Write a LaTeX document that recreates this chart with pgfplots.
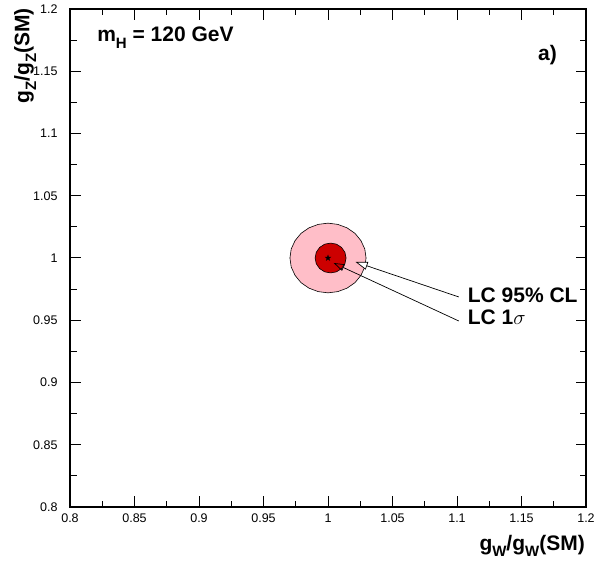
\documentclass[border=0pt]{standalone}
\usepackage{fontspec}
\setmainfont{Liberation Sans}
\usepackage{pgfplots}
\pgfplotsset{compat=1.18}
\usetikzlibrary{arrows.meta}

\definecolor{clpink}{RGB}{255,190,200}
\definecolor{sigred}{RGB}{205,0,0}

% filled five-pointed star marker
\pgfdeclareplotmark{fstar}{%
  \pgfpathmoveto{\pgfpointpolar{90}{\pgfplotmarksize}}%
  \pgfpathlineto{\pgfpointpolar{126}{0.4\pgfplotmarksize}}%
  \pgfpathlineto{\pgfpointpolar{162}{\pgfplotmarksize}}%
  \pgfpathlineto{\pgfpointpolar{198}{0.4\pgfplotmarksize}}%
  \pgfpathlineto{\pgfpointpolar{234}{\pgfplotmarksize}}%
  \pgfpathlineto{\pgfpointpolar{270}{0.4\pgfplotmarksize}}%
  \pgfpathlineto{\pgfpointpolar{306}{\pgfplotmarksize}}%
  \pgfpathlineto{\pgfpointpolar{342}{0.4\pgfplotmarksize}}%
  \pgfpathlineto{\pgfpointpolar{18}{\pgfplotmarksize}}%
  \pgfpathlineto{\pgfpointpolar{54}{0.4\pgfplotmarksize}}%
  \pgfpathclose
  \pgfusepathqfill}

\newcommand{\lbl}{\bfseries\fontsize{21}{24}\selectfont}
\newcommand{\sub}[1]{\raisebox{-0.32em}{\fontsize{15}{15}\selectfont #1}}

\begin{document}
\begin{tikzpicture}
\path[use as bounding box] (0,0) rectangle (597pt,560pt);
\begin{axis}[
  at={(70pt,53pt)}, anchor=south west,
  scale only axis, width=516pt, height=498pt,
  xmin=0.8, xmax=1.2, ymin=0.8, ymax=1.2,
  xtick={0.8,0.85,0.9,0.95,1,1.05,1.1,1.15,1.2},
  ytick={0.8,0.85,0.9,0.95,1,1.05,1.1,1.15,1.2},
  minor x tick num=1, minor y tick num=1,
  tick align=inside,
  major tick length=10.5pt, minor tick length=6.5pt,
  axis line style={line width=1.3pt},
  every tick/.style={black, line width=1pt},
  /pgf/number format/assume math mode=true,
  tick label style={font=\fontsize{12.5}{12.5}\selectfont, text=black},
  xticklabel style={yshift=-3pt},
  yticklabel style={xshift=-9pt},
]
% 95% CL region
\addplot[fill=clpink, draw=black, line width=0.6pt] coordinates {
  (1.0295,1.0000) (1.0285,1.0073) (1.0255,1.0140) (1.0209,1.0198)
  (1.0148,1.0242) (1.0076,1.0270) (1.0000,1.0280) (0.9924,1.0270)
  (0.9852,1.0242) (0.9791,1.0198) (0.9745,1.0140) (0.9715,1.0073)
  (0.9705,1.0000) (0.9715,0.9927) (0.9745,0.9860) (0.9791,0.9802)
  (0.9852,0.9758) (0.9924,0.9730) (1.0000,0.9720) (1.0076,0.9730)
  (1.0148,0.9758) (1.0209,0.9802) (1.0255,0.9860) (1.0285,0.9927)
} -- cycle;
% 1 sigma region
\addplot[fill=sigred, draw=black, line width=0.6pt] coordinates {
  (1.0140,1.0000) (1.0131,1.0046) (1.0105,1.0085) (1.0066,1.0111)
  (1.0020,1.0120) (0.9974,1.0111) (0.9935,1.0085) (0.9909,1.0046)
  (0.9900,1.0000) (0.9909,0.9954) (0.9935,0.9915) (0.9974,0.9889)
  (1.0020,0.9880) (1.0066,0.9889) (1.0105,0.9915) (1.0131,0.9954)
} -- cycle;
% Standard Model point
\addplot[only marks, mark=fstar, mark size=3.5pt, black] coordinates {(1,1)};

\draw[line width=0.7pt, -{Triangle[open, length=12pt, width=8pt, fill=white]}]
  (axis cs:1.1014,0.9687) -- (axis cs:1.0214,0.9968);
\draw[line width=0.7pt, -{Triangle[open, length=11pt, width=7pt]}]
  (axis cs:1.1014,0.9494) -- (axis cs:1.0043,0.9960);
\node[anchor=base west, inner sep=0, font=\lbl] at (axis cs:1.1083,0.9646) {LC 95\% CL};
\node[anchor=base west, inner sep=0, font=\lbl] at (axis cs:1.1083,0.9462) {LC 1$\sigma$};

\node[anchor=base west, inner sep=0, font=\lbl] at (axis cs:0.821,1.1737) {m\sub{H} = 120 GeV};
\node[anchor=base west, inner sep=0, font=\lbl] at (axis cs:1.1627,1.1590) {a)};
\end{axis}
\node[rotate=90, anchor=north east, inner sep=0, font=\lbl] at (14pt,552pt) {g\sub{Z}/g\sub{Z}(SM)};
\node[anchor=base east, inner sep=0, font=\lbl] at (585pt,10pt) {g\sub{W}/g\sub{W}(SM)};
\end{tikzpicture}
\end{document}
